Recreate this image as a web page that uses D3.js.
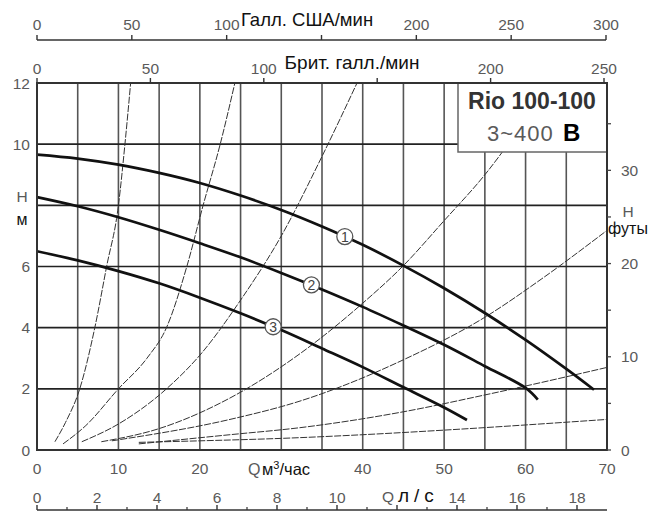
<!DOCTYPE html>
<html><head><meta charset="utf-8">
<script src="https://cdn.jsdelivr.net/npm/d3@7"></script>
<style>
html,body{margin:0;padding:0;background:#fff;}
svg{display:block;}
text{font-family:"Liberation Sans",Arial,sans-serif;}
</style></head>
<body>
<svg id="c" width="661" height="513"></svg>
<script>
// ---- data ----
const qTicks = [0,10,20,40,50,60,70];          // m3/h labels (30 replaced by unit label)
const hTicks = [0,2,4,6,10,12];                // m (8 replaced by "H м")
const ftTicks = [0,10,20,30];                  // ft labels
const ftMinor = [5,15,25,35];
const usTicks = [0,50,100,150,200,250,300];    // US gal/min
const usLabels = [0,50,100,200,250,300];
const ukTicks = [0,50,100,150,200,250];        // Imp gal/min
const ukLabels = [0,50,100,200,250];
const lsMajor = [0,2,4,6,8,10,12,14,16,18];    // l/s
const lsLabels = [0,2,4,6,8,10,14,16,18];
const lsMinor = [1,3,5,7,9,11,13,15,17];
const gridQ = [5,10,15,20,25,30,35,40,45,50,55,60,65];
const gridH = [2,4,6,8,10];

// pump curves (Q m3/h, H m)
const curve1 = [[0,9.66],[5,9.53],[10,9.33],[15,9.06],[20,8.73],[25,8.32],[30,7.85],[35,7.31],[40,6.71],[45,6.03],[50,5.29],[55,4.48],[60,3.6],[65,2.65],[68.4,1.97]];
const curve2 = [[0,8.27],[5,7.97],[10,7.61],[15,7.2],[20,6.76],[25,6.3],[30,5.79],[35,5.25],[40,4.68],[45,4.07],[50,3.44],[55,2.74],[60,2.03],[61.5,1.65]];
const curve3 = [[0,6.5],[5,6.2],[10,5.85],[15,5.45],[20,4.98],[25,4.47],[30,3.92],[35,3.32],[40,2.71],[45,2.05],[50,1.39],[52.8,0.98]];
const labelPts = [["1",37.8,6.98],["2",33.7,5.4],["3",29.0,4.03]];

// system curves (Q m3/h, H m)
const sysA = [[2.2,0.27],[3.5,0.9],[5.25,2],[7.1,4],[8.55,6],[10,8.0],[10.8,10],[11.5,12]];
const sysB = [[3.2,0.2],[6,0.8],[10,2],[13.5,3],[15.9,4],[18.4,6],[20.4,8],[22.5,10],[24.3,12]];
const sysC = [[5.5,0.27],[10,0.85],[15.9,2],[20,3.1],[25,4.9],[30,7.0],[35,9.6],[39.3,12]];
const sysD = [[7.9,0.27],[15,0.7],[23.7,1.7],[32.3,3.15],[40,4.8],[45,6.03],[50,7.5],[55,9.0],[60,10.8]];
const sysE = [[9.2,0.3],[23.7,1.0],[32.3,1.6],[45,2.95],[55,4.34],[62,5.6],[70,7.18]];
const sysF = [[12.5,0.2],[23.7,0.5],[32.3,0.73],[45,1.25],[55,1.8],[70,2.7]];
const sysG = [[12.5,0.25],[20,0.3],[30,0.38],[40,0.5],[50,0.65],[70,1.0]];
const systemCurves = [sysA,sysB,sysC,sysD,sysE,sysF,sysG];

// ---- drawing ----
const svg = d3.select("#c");
const x = d3.scaleLinear().domain([0,70]).range([37,607]);
const y = d3.scaleLinear().domain([0,12]).range([450,83]);
const yFt = d3.scaleLinear().domain([0,12/0.3048]).range([450,83]);
const xUS = d3.scaleLinear().domain([0,300]).range([37,606]);
const xUK = d3.scaleLinear().domain([0,250]).range([37,604]);
const xLs = d3.scaleLinear().domain([0,19]).range([37,607]);
const gray = "#5a5a5a";
const narrow = "'Liberation Sans Narrow','Liberation Sans',Arial,sans-serif";
const fs = 15.5;

// grid
svg.append("g").selectAll("line").data(gridQ).join("line")
  .attr("x1",d=>x(d)).attr("x2",d=>x(d)).attr("y1",y(0)).attr("y2",y(12))
  .attr("stroke","#555").attr("stroke-width",1.6);
svg.append("g").selectAll("line").data(gridH).join("line")
  .attr("x1",x(0)).attr("x2",x(70)).attr("y1",d=>y(d)).attr("y2",d=>y(d))
  .attr("stroke","#222").attr("stroke-width",1.6);

// system curves
const line = d3.line().x(d=>x(d[0])).y(d=>y(d[1])).curve(d3.curveMonotoneX);
svg.append("clipPath").attr("id","pc").append("rect")
  .attr("x",x(0)).attr("y",y(12)).attr("width",x(70)-x(0)).attr("height",y(0)-y(12));
svg.append("g").attr("clip-path","url(#pc)").selectAll("path").data(systemCurves).join("path")
  .attr("d",line).attr("fill","none").attr("stroke","#333").attr("stroke-width",1)
  .attr("stroke-dasharray","7,1.5");

// legend box
svg.append("rect").attr("x",458).attr("y",y(12)).attr("width",x(70)-458).attr("height",152-y(12))
  .attr("fill","#fff").attr("stroke","#666").attr("stroke-width",1.5);

// pump curves
[curve1,curve2,curve3].forEach(c=>{
  svg.append("path").datum(c).attr("d",d3.line().x(d=>x(d[0])).y(d=>y(d[1])).curve(d3.curveCatmullRom))
    .attr("fill","none").attr("stroke","#111").attr("stroke-width",2.7);
});
// curve labels
const lg = svg.append("g").selectAll("g").data(labelPts).join("g")
  .attr("transform",d=>`translate(${x(d[1])},${y(d[2])})`);
lg.append("circle").attr("r",8).attr("fill","#fff").attr("stroke","#555").attr("stroke-width",1.3);
lg.append("text").text(d=>d[0]).attr("text-anchor","middle").attr("y",5)
  .attr("font-size",14).attr("fill","#444");

// frame
svg.append("rect").attr("x",x(0)).attr("y",y(12)).attr("width",x(70)-x(0)).attr("height",y(0)-y(12))
  .attr("fill","none").attr("stroke","#333").attr("stroke-width",2);

// left axis labels
svg.append("g").selectAll("text").data(hTicks).join("text")
  .attr("x",30).attr("y",d=>y(d)+5.5).attr("text-anchor","end").attr("font-size",fs).attr("fill",gray).text(d=>d);
svg.append("text").attr("x",22).attr("y",202).attr("text-anchor","middle").attr("font-size",fs).attr("fill",gray).text("H");
svg.append("text").attr("x",22).attr("y",225).attr("text-anchor","middle").attr("font-size",16).attr("fill","#111").text("м");

// right axis (feet)
svg.append("g").selectAll("line").data(ftTicks.concat(ftMinor)).join("line")
  .attr("x1",x(70)).attr("x2",x(70)+4).attr("y1",d=>yFt(d)).attr("y2",d=>yFt(d)).attr("stroke","#444").attr("stroke-width",1.3);
svg.append("g").selectAll("text").data(ftTicks).join("text")
  .attr("x",621).attr("y",d=>yFt(d)+5.5).attr("font-size",fs).attr("fill",gray).text(d=>d);
svg.append("text").attr("x",628).attr("y",217).attr("text-anchor","middle").attr("font-size",fs).attr("fill",gray).text("H");
svg.append("text").attr("x",628).attr("y",234).attr("text-anchor","middle").attr("font-size",16)
  .style("font-family",narrow).attr("fill","#111").text("футы");

// bottom m3/h labels
svg.append("g").selectAll("text").data(qTicks).join("text")
  .attr("x",d=>x(d)).attr("y",474).attr("text-anchor","middle").attr("font-size",fs).attr("fill",gray).text(d=>d);
svg.append("text").attr("x",248).attr("y",475).attr("font-size",16).attr("fill",gray).text("Q");
const qt = svg.append("text").attr("x",262).attr("y",475).attr("font-size",16.5).style("font-family",narrow).attr("fill","#111");
qt.append("tspan").text("м");
qt.append("tspan").attr("font-size",11).attr("dy",-6).text("3");
qt.append("tspan").attr("dy",6).text("/час");

// l/s axis
svg.append("line").attr("x1",xLs(0)).attr("x2",607).attr("y1",510).attr("y2",510).attr("stroke","#333").attr("stroke-width",1.6);
svg.append("g").selectAll("line").data(lsMajor).join("line")
  .attr("x1",d=>xLs(d)).attr("x2",d=>xLs(d)).attr("y1",510).attr("y2",505).attr("stroke","#333").attr("stroke-width",1.4);
svg.append("g").selectAll("line").data(lsMinor).join("line")
  .attr("x1",d=>xLs(d)).attr("x2",d=>xLs(d)).attr("y1",510).attr("y2",507).attr("stroke","#333").attr("stroke-width",1.2);
svg.append("g").selectAll("text").data(lsLabels).join("text")
  .attr("x",d=>xLs(d)).attr("y",503).attr("text-anchor","middle").attr("font-size",fs).attr("fill",gray).text(d=>d);
svg.append("text").attr("x",382).attr("y",502).attr("font-size",fs).attr("fill",gray).text("Q");
svg.append("text").attr("x",398).attr("y",502).attr("font-size",19).attr("letter-spacing",5)
  .style("font-family",narrow).attr("fill","#111").text("л/с");

// top US axis
svg.append("line").attr("x1",xUS(0)).attr("x2",xUS(300)).attr("y1",40).attr("y2",40).attr("stroke","#333").attr("stroke-width",1.6);
svg.append("g").selectAll("line").data(usTicks).join("line")
  .attr("x1",d=>xUS(d)).attr("x2",d=>xUS(d)).attr("y1",40).attr("y2",35).attr("stroke","#333").attr("stroke-width",1.4);
svg.append("g").selectAll("text").data(usLabels).join("text")
  .attr("x",d=>xUS(d)).attr("y",30).attr("text-anchor","middle").attr("font-size",fs).attr("fill",gray).text(d=>d);
svg.append("text").attr("x",307).attr("y",26).attr("text-anchor","middle").attr("font-size",18.5)
  .style("font-family",narrow).attr("fill","#111").text("Галл. США/мин");

// top Imp axis
svg.append("g").selectAll("line").data(ukTicks).join("line")
  .attr("x1",d=>xUK(d)).attr("x2",d=>xUK(d)).attr("y1",y(12)).attr("y2",y(12)-5).attr("stroke","#333").attr("stroke-width",1.4);
svg.append("g").selectAll("text").data(ukLabels).join("text")
  .attr("x",d=>xUK(d)).attr("y",74).attr("text-anchor","middle").attr("font-size",fs).attr("fill",gray).text(d=>d);
svg.append("text").attr("x",352).attr("y",69).attr("text-anchor","middle").attr("font-size",19)
  .style("font-family",narrow).attr("fill","#111").text("Брит. галл./мин");

// legend text
svg.append("text").attr("x",532).attr("y",108.5).attr("text-anchor","middle").attr("font-size",23)
  .attr("font-weight","bold").attr("fill","#333").text("Rio 100-100");
svg.append("text").attr("x",487).attr("y",141).attr("font-size",22).attr("letter-spacing",1)
  .attr("fill",gray).text("3~400");
svg.append("text").attr("x",563).attr("y",141).attr("font-size",24).attr("font-weight","bold")
  .attr("fill","#000").text("В");
</script>
</body></html>
